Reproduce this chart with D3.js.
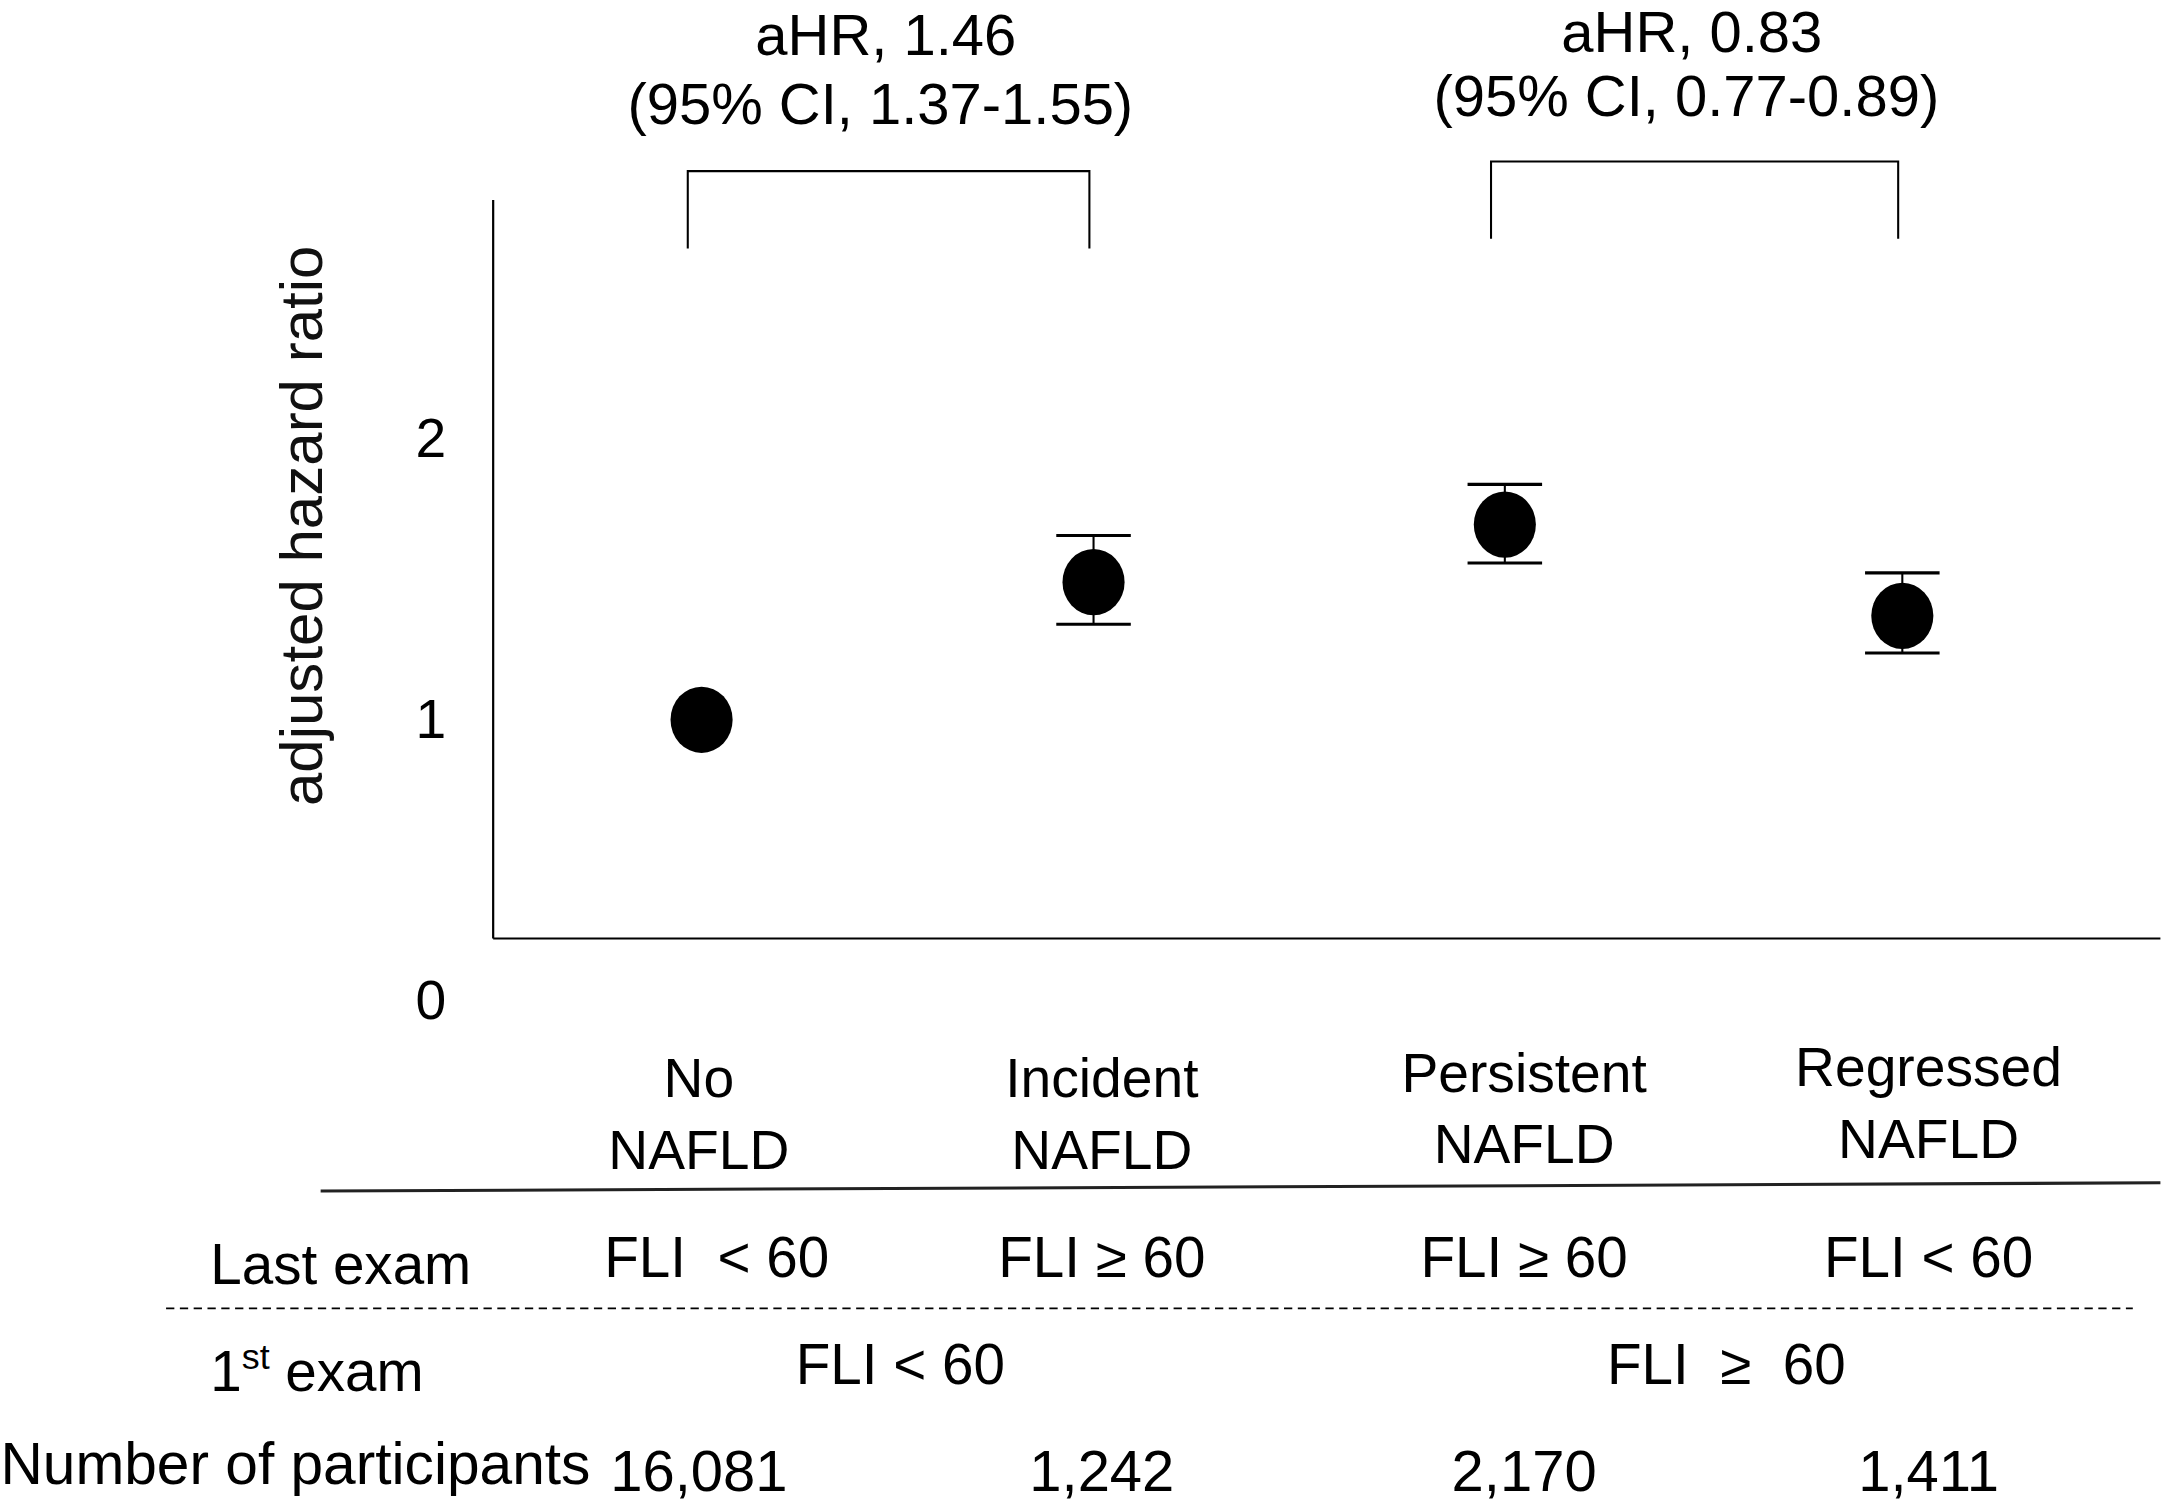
<!DOCTYPE html>
<html>
<head>
<meta charset="utf-8">
<script src="https://cdn.jsdelivr.net/npm/d3@7"></script>
<style>
  body { margin: 0; background: #fff; }
  text { font-family: "Liberation Sans", Arial, sans-serif; fill: #000; white-space: pre; }
</style>
</head>
<body>
<svg id="chart"></svg>
<script>
// data
var groupTop    = ["No", "Incident", "Persistent", "Regressed"];
var groupBottom = ["NAFLD", "NAFLD", "NAFLD", "NAFLD"];
var hazardRatio = [1.00, 1.49, 1.695, 1.37];
var ciLower     = [null, 1.34, 1.558, 1.238];
var ciUpper     = [null, 1.656, 1.838, 1.523];
var yTicks      = [0, 1, 2];

var lastExam     = ["FLI  < 60", "FLI \u2265 60", "FLI \u2265 60", "FLI < 60"];
var firstExam    = ["FLI < 60", "FLI  \u2265  60"];
var participants = ["16,081", "1,242", "2,170", "1,411"];

var brackets = [
  {from: "No", to: "Incident", line1: "aHR, 1.46", line2: "(95% CI, 1.37-1.55)"},
  {from: "Persistent", to: "Regressed", line1: "aHR, 0.83", line2: "(95% CI, 0.77-0.89)"}
];

// layout works in a 1568 x 1089 box, scaled up to the window
var view = {width: 1568, height: 1089};
var axisX = 357, axisTop = 145, axisBottom = 680, axisRight = 1565;

var svg = d3.select("#chart")
  .attr("width", 2165)
  .attr("height", 1503)
  .attr("viewBox", "0 0 " + view.width + " " + view.height);

var points = groupTop.map(function(g, i){
  return {group: g, hr: hazardRatio[i], lo: ciLower[i], hi: ciUpper[i]};
});

// the groups are not evenly spaced in the original figure
var xScale = d3.scaleOrdinal()
  .domain(groupTop)
  .range([508, 792, 1090, 1378]);

var colScale = d3.scaleOrdinal()
  .domain(groupTop)
  .range([506, 798, 1104, 1397]);

var yScale = d3.scaleLinear()
  .domain([0, 2])
  .range([725, 318]);

// axis lines
svg.append("line")
  .attr("x1", axisX).attr("x2", axisX)
  .attr("y1", axisTop).attr("y2", axisBottom)
  .style("stroke", "#000").style("stroke-width", 1.6);
svg.append("line")
  .attr("x1", axisX).attr("x2", axisRight)
  .attr("y1", axisBottom).attr("y2", axisBottom)
  .style("stroke", "#000").style("stroke-width", 1.6);

// tick labels only
var yAxis = d3.axisLeft(yScale)
  .tickValues(yTicks)
  .tickFormat(d3.format("d"))
  .tickSize(0)
  .tickPadding(34);

var yAxisG = svg.append("g")
  .attr("transform", "translate(" + axisX + ",0)")
  .call(yAxis);
yAxisG.select(".domain").remove();
yAxisG.selectAll("text")
  .attr("font-size", 40)
  .style("font-family", "Liberation Sans, Arial, sans-serif")
  .attr("fill", "#000");

svg.append("text")
  .text("adjusted hazard ratio")
  .attr("transform", "translate(233," + 381 + ") rotate(-90)")
  .attr("text-anchor", "middle")
  .attr("font-size", 43.5)
  .style("fill", "#111");

// error bars
var capHalf = 27;
var withCI = points.filter(function(d){ return d.lo != null; });

svg.selectAll(".ci-stem").data(withCI).enter().append("line")
  .attr("class", "ci-stem")
  .attr("x1", function(d){ return xScale(d.group); })
  .attr("x2", function(d){ return xScale(d.group); })
  .attr("y1", function(d){ return yScale(d.lo); })
  .attr("y2", function(d){ return yScale(d.hi); })
  .style("stroke", "#000").style("stroke-width", 1.5);

["lo", "hi"].forEach(function(k){
  svg.selectAll(".cap-" + k).data(withCI).enter().append("line")
    .attr("class", "cap-" + k)
    .attr("x1", function(d){ return xScale(d.group) - capHalf; })
    .attr("x2", function(d){ return xScale(d.group) + capHalf; })
    .attr("y1", function(d){ return yScale(d[k]); })
    .attr("y2", function(d){ return yScale(d[k]); })
    .style("stroke", "#000").style("stroke-width", 2.2);
});

// points
svg.selectAll(".dot").data(points).enter().append("ellipse")
  .attr("class", "dot")
  .attr("cx", function(d){ return xScale(d.group); })
  .attr("cy", function(d){ return yScale(d.hr); })
  .attr("rx", 22.5)
  .attr("ry", 24)
  .attr("fill", "#000");

// comparison brackets
var bracketTop = [124, 117], bracketLeg = 56;
var textTop = [40, 38], textSecond = [90, 84];
brackets.forEach(function(b, i){
  var xa = xScale(b.from) - 10, xb = xScale(b.to) - 3, yt = bracketTop[i];
  svg.append("path")
    .attr("d", "M" + xa + "," + (yt + bracketLeg) + "V" + yt + "H" + xb + "V" + (yt + bracketLeg))
    .attr("fill", "none")
    .style("stroke", "#000").style("stroke-width", 1.5);
  var cx = (xa + xb) / 2 - 6;
  svg.append("text").text(b.line1)
    .attr("x", cx + 4).attr("y", textTop[i])
    .attr("text-anchor", "middle").attr("font-size", 42);
  svg.append("text").text(b.line2)
    .attr("x", cx).attr("y", textSecond[i])
    .attr("text-anchor", "middle").attr("font-size", 42);
});

// category labels
var labelShift = [0, 0, -4, -8];
svg.selectAll(".cat-top").data(groupTop).enter().append("text")
  .attr("class", "cat-top")
  .text(function(d){ return d; })
  .attr("x", function(d){ return colScale(d); })
  .attr("y", function(d, i){ return 795 + labelShift[i]; })
  .attr("text-anchor", "middle").attr("font-size", 40);
svg.selectAll(".cat-bot").data(groupBottom).enter().append("text")
  .attr("class", "cat-bot")
  .text(function(d){ return d; })
  .attr("x", function(d, i){ return colScale(groupTop[i]); })
  .attr("y", function(d, i){ return 847 + labelShift[i]; })
  .attr("text-anchor", "middle").attr("font-size", 40);

// table rules
svg.append("line")
  .attr("x1", 232).attr("y1", 863).attr("x2", 1565).attr("y2", 857)
  .style("stroke", "#222").style("stroke-width", 2.2);
svg.append("line")
  .attr("x1", 120).attr("y1", 948).attr("x2", 1545).attr("y2", 948)
  .style("stroke", "#000").style("stroke-width", 1.4)
  .style("stroke-dasharray", "6,4");

// row: last exam
svg.append("text").text("Last exam")
  .attr("x", 152).attr("y", 930).attr("font-size", 41);
svg.selectAll(".last").data(lastExam).enter().append("text")
  .attr("class", "last")
  .text(function(d){ return d; })
  .attr("x", function(d, i){ return colScale(groupTop[i]) + (i == 0 ? 13 : 0); })
  .attr("y", 925)
  .attr("text-anchor", "middle").attr("font-size", 41);

// row: first exam
var firstRow = svg.append("text")
  .attr("x", 152).attr("y", 1008).attr("font-size", 41);
firstRow.append("tspan").text("1");
firstRow.append("tspan").text("st").attr("font-size", 26).attr("dy", -16);
firstRow.append("tspan").text(" exam").attr("dy", 16);

svg.selectAll(".first").data(firstExam).enter().append("text")
  .attr("class", "first")
  .text(function(d){ return d; })
  .attr("x", function(d, i){
    return (colScale(groupTop[2 * i]) + colScale(groupTop[2 * i + 1])) / 2;
  })
  .attr("y", 1003)
  .attr("text-anchor", "middle").attr("font-size", 41);

// row: participants
svg.append("text").text("Number of participants")
  .attr("x", 0).attr("y", 1075).attr("font-size", 42.5);
svg.selectAll(".num").data(participants).enter().append("text")
  .attr("class", "num")
  .text(function(d){ return d; })
  .attr("x", function(d, i){ return colScale(groupTop[i]); })
  .attr("y", 1080)
  .attr("text-anchor", "middle").attr("font-size", 42);
</script>
</body>
</html>
